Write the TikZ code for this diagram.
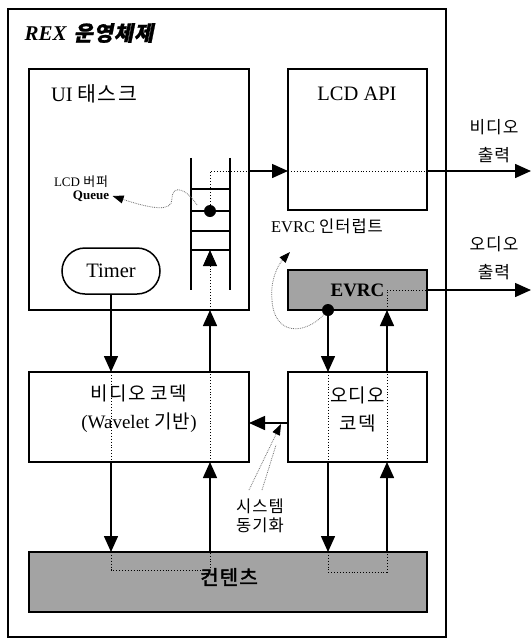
\documentclass[tikz,border=0pt]{standalone}
\usepackage{fontspec}
\setmainfont{Liberation Serif}
\newfontfamily\kr[LetterSpace=6]{Noto Sans CJK KR}
\newfontfamily\krb[FakeBold=2,LetterSpace=6]{Noto Sans CJK KR}
\newfontfamily\kri[FakeSlant=0.2,FakeBold=1,LetterSpace=4]{Noto Sans CJK KR}
\usetikzlibrary{arrows.meta,calc}
\begin{document}
\begin{tikzpicture}[x=1pt,y=-1pt,
  box/.style={draw, line width=1.5pt, inner sep=0pt, outer sep=0pt},
  shade/.style={fill=black!36},
  arr/.style={line width=1.5pt, -{Triangle[length=16pt,width=14pt]}},
  dots/.style={dotted, line width=0.9pt},
  gdots/.style={densely dotted, black!55, line width=0.8pt},
  gtip/.style={-{Triangle[length=11pt,width=8pt,black]}},
  thick1/.style={line width=1.5pt},
  bdot/.style={circle, fill, inner sep=0pt, minimum size=12pt},
  f20/.style={font=\fontsize{20.5}{24}\selectfont},
  f19/.style={font=\fontsize{19}{28}\selectfont},
  f17/.style={font=\fontsize{17}{28}\selectfont},
  f16/.style={font=\fontsize{16.5}{19}\selectfont},
  f13/.style={font=\fontsize{13}{14}\selectfont}]
\useasboundingbox (0,0) rectangle (532,640);
\fill[white] (0,0) rectangle (532,640);

% boxes
\node[box, minimum width=438pt, minimum height=628pt] (rex) at (227,323) {};
\node[box, minimum width=220pt, minimum height=241pt] (ui) at (139,189.5) {};
\node[box, minimum width=139pt, minimum height=141pt] (lcd) at (357.5,139.5) {};
\node[box, shade, minimum width=139pt, minimum height=40pt, font=\fontsize{19}{22}\selectfont\bfseries] (evrc) at (357.5,290) {EVRC};
\node[box, minimum width=220pt, minimum height=90pt] (vcod) at (139,417) {};
\node[box, minimum width=139pt, minimum height=90pt] (acod) at (357.5,417) {};
\node[box, shade, minimum width=398pt, minimum height=60pt] (cont) at (228,582) {};
\node[box, rounded corners=23pt, minimum width=98pt, minimum height=46pt, f20] (timer) at (111,271) {Timer};

% texts
\node[anchor=west, font=\fontsize{21}{24}\selectfont\bfseries\itshape] (title) at (21,33) {REX\hspace{7pt}{\kri 운영체제}};
\node[f20] (uit) at (94,94) {UI {\kr 태스크}};
\node[f20] (lcdt) at (357,94) {LCD API};
\node[f19, align=center] (vcodt) at (139,409) {{\kr 비디오 코덱}\\(Wavelet {\kr 기반})};
\node[f19, align=center] (acodt) at (357.5,409) {{\kr 오디오}\\{\kr 코덱}};
\node[font=\fontsize{20}{24}\selectfont] (contt) at (229,577) {\krb 컨텐츠};
\node[f17, align=center] (vlab) at (494,141) {{\kr 비디오}\\{\kr 출력}};
\node[f17, align=center] (alab) at (494,258) {{\kr 오디오}\\{\kr 출력}};
\node[f13] (qlab1) at (81,182) {LCD {\kr 버퍼}};
\node[font=\fontsize{13}{14}\selectfont\bfseries] (qlab2) at (91,196) {Queue};
\node[f16] (elab) at (327,226) {EVRC {\kr 인터럽트}};
\node[f16, align=center] (slab) at (260,516) {{\kr 시스템}\\{\kr 동기화}};

% queue
\node[inner sep=0pt, minimum width=39pt, minimum height=132pt] (queue) at (210.5,224) {};
\draw[thick1] (queue.north west) -- (queue.south west);
\draw[thick1] (queue.north east) -- (queue.south east);
\foreach \yy in {189,211,231,250} \draw[thick1] (191,\yy) -- (230,\yy);

% coordinates
\coordinate (vout) at (531,171);
\coordinate (aout) at (531,290);
\coordinate (qb) at (210,250);
\coordinate (ax) at (387,290);
\coordinate (sy) at (0,423);

% video output path
\node[bdot] (qdot) at (210,211) {};
\draw[dots] (qdot) -- (qdot |- vout) -- (ui.east |- vout);
\draw[arr] (ui.east |- vout) -- (lcd.west |- vout);
\draw[dots] (lcd.west |- vout) -- (lcd.east |- vout);
\draw[arr] (lcd.east |- vout) -- (vout);

% video codec flows
\draw[arr] (timer.south) -- (timer.south |- vcod.north);
\draw[dots] (timer.south |- vcod.north) -- (timer.south |- vcod.south);
\draw[arr] (timer.south |- vcod.south) -- (timer.south |- cont.north);
\draw[dots] (timer.south |- cont.north) -- ++(0,18) -| (qb |- cont.north);
\draw[arr] (qb |- cont.north) -- (qb |- vcod.south);
\draw[dots] (qb |- vcod.south) -- (qb |- vcod.north);
\draw[arr] (qb |- vcod.north) -- (qb |- ui.south);
\draw[dots, -{Triangle[length=16pt,width=14pt]}] (qb |- ui.south) -- (qb);

% audio flows
\draw[arr] (328,310) -- (328,372);
\node[bdot] (edot) at (328,310) {};
\draw[dots] (edot |- acod.north) -- (edot |- acod.south);
\draw[arr] (edot |- acod.south) -- (edot |- cont.north);
\draw[dots] (edot |- cont.north) -- ++(0,20) -| (ax |- cont.north);
\draw[arr] (ax |- cont.north) -- (ax |- acod.south);
\draw[dots] (ax |- acod.south) -- (ax |- acod.north);
\draw[arr] (ax |- acod.north) -- (ax |- evrc.south);
\draw[dots] (ax |- evrc.south) -- (ax) -- (evrc.east |- ax);
\draw[arr] (evrc.east |- ax) -- (aout);

% sync arrow
\draw[arr] (acod.west |- sy) -- (vcod.east |- sy);

% gray dotted curves
\draw[gdots, gtip] (197,205) .. controls (186,188) and (172,184) .. (172,199)
  .. controls (172,212) and (152,209) .. (qlab2.east);
\draw[gdots, gtip] (edot) .. controls (305,335) and (274,336) .. (272,300)
  .. controls (270,280) and (278,265) .. (290,252);
\draw[gdots, gtip] (249,490) -- (281,424);
\draw[gdots] (262,490) -- (276,445);
\end{tikzpicture}
\end{document}
